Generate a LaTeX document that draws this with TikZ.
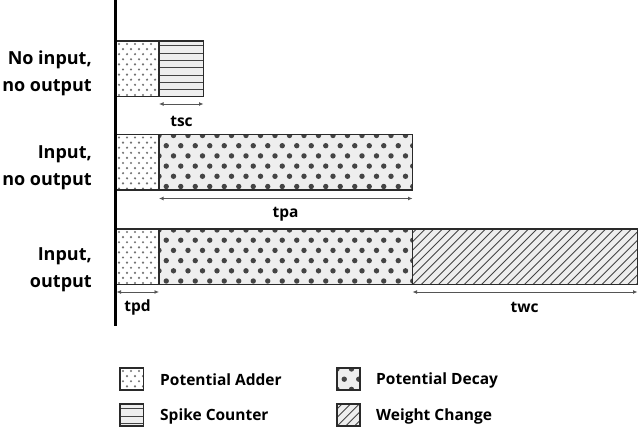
\documentclass[tikz,border=0pt]{standalone}
\usepackage{fontspec}
\setmainfont{Open Sans}
\usetikzlibrary{positioning,arrows.meta}

\definecolor{barfill}{HTML}{EEEEEE}
\definecolor{dotgray}{HTML}{444444}
\definecolor{edgegray}{HTML}{2A2A2A}
\definecolor{spangray}{HTML}{555555}

\tikzset{
  barframe/.style={draw=edgegray, line width=1.3pt},
  hatch/.style={draw=dotgray, line width=0.9pt},
  span/.style={draw=spangray, line width=0.9pt, {Latex[length=4.5pt,width=4pt]}-{Latex[length=4.5pt,width=4pt]}},
  rowlabel/.style={align=right, anchor=east, inner sep=0pt, font=\bfseries\fontsize{18}{27}\selectfont},
  spanlabel/.style={inner sep=0pt, font=\bfseries\fontsize{15.5}{18}\selectfont},
  keytext/.style={anchor=west, inner sep=0pt, font=\bfseries\fontsize{15.5}{18}\selectfont},
}

% pattern blocks: #1,#2 top left, #3,#4 bottom right
\newcommand{\adderbar}[4]{%
  \fill[white] (#1,#2) rectangle (#3,#4);
  \begin{scope}
    \clip (#1,#2) rectangle (#3,#4);
    \foreach \r in {0,...,11}
      \foreach \c in {0,...,6}
        \fill[dotgray!75] ({#1+3+8*\c+4*mod(\r,2)},{#2+3+5.1*\r}) circle[radius=1.2pt];
  \end{scope}
  \draw[barframe] (#1,#2) rectangle (#3,#4);
}
\newcommand{\decaybar}[4]{%
  \fill[barfill] (#1,#2) rectangle (#3,#4);
  \begin{scope}
    \clip (#1,#2) rectangle (#3,#4);
    \foreach \r in {0,...,6}
      \foreach \c in {0,...,18}
        \fill[dotgray] ({#1+14.5*\c+7.25*mod(\r,2)},{#2+1+10.2*\r}) circle[radius=2.7pt];
  \end{scope}
  \draw[barframe] (#1,#2) rectangle (#3,#4);
}
\newcommand{\spikebar}[4]{%
  \fill[barfill] (#1,#2) rectangle (#3,#4);
  \begin{scope}
    \clip (#1,#2) rectangle (#3,#4);
    \foreach \r in {0,...,7}
      \draw[hatch] (#1,{#2+4.7+7.35*\r}) -- (#3,{#2+4.7+7.35*\r});
  \end{scope}
  \draw[barframe] (#1,#2) rectangle (#3,#4);
}
\newcommand{\changebar}[4]{%
  \fill[barfill] (#1,#2) rectangle (#3,#4);
  \begin{scope}
    \clip (#1,#2) rectangle (#3,#4);
    \foreach \c in {0,...,36}
      \draw[hatch] ({#1+8.6*\c-65},{#4+5}) -- ++(70,-70);
  \end{scope}
  \draw[barframe] (#1,#2) rectangle (#3,#4);
}

\begin{document}
\begin{tikzpicture}[x=1pt, y=-1pt]
    \useasboundingbox (0, 0) rectangle (640, 428);

    % rows
    \adderbar{116}{41}{159}{96.5}
    \spikebar{159}{41}{203.5}{96.5}

    \adderbar{116}{134.5}{159}{190}
    \decaybar{159}{134.5}{412.5}{190}

    \adderbar{116}{229}{159}{284.5}
    \decaybar{159}{229}{412.5}{284.5}
    \changebar{412.5}{229}{637.5}{284.5}

    \draw [line width=2.3pt] (115.5, 0) -- (115.5, 326);

    \node [rowlabel] (none) at (92, 73) {No input,\\no output};
    \node [rowlabel] (inonly) at (92, 167.5) {Input,\\no output};
    \node [rowlabel] (inout) at (92, 270) {Input,\\output};

    % time spans
    \coordinate (tscL) at (159, 104);
    \coordinate (tscR) at (203.5, 104);
    \coordinate (tpaL) at (159, 198.5);
    \coordinate (tpaR) at (412.5, 198.5);
    \coordinate (tpdL) at (116.5, 292);
    \coordinate (tpdR) at (159, 292);
    \coordinate (twcL) at (412.5, 292);
    \coordinate (twcR) at (637.5, 292);

    \draw [span] (tscL) -- (tscR);
    \draw [span] (tpaL) -- (tpaR);
    \draw [span] (tpdL) -- (tpdR);
    \draw [span] (twcL) -- (twcR);

    \node [spanlabel] (tsc) at (181.5, 121) {tsc};
    \node [spanlabel] (tpa) at (285.5, 214) {tpa};
    \node [spanlabel] (tpd) at (137.5, 307) {tpd};
    \node [spanlabel] (twc) at (524.5, 307) {twc};

    % legend
    \adderbar{120}{368}{143.5}{390}
    \spikebar{120}{404}{143.5}{426}
    \decaybar{337}{368}{360}{390}
    \changebar{337}{404}{360}{426}

    \node [keytext] (adderkey) at (160, 380) {Potential Adder};
    \node [keytext] (spikekey) at (160, 416) {Spike Counter};
    \node [keytext] (decaykey) at (376, 380) {Potential Decay};
    \node [keytext] (changekey) at (376, 416) {Weight Change};

  \end{tikzpicture}
\end{document}
